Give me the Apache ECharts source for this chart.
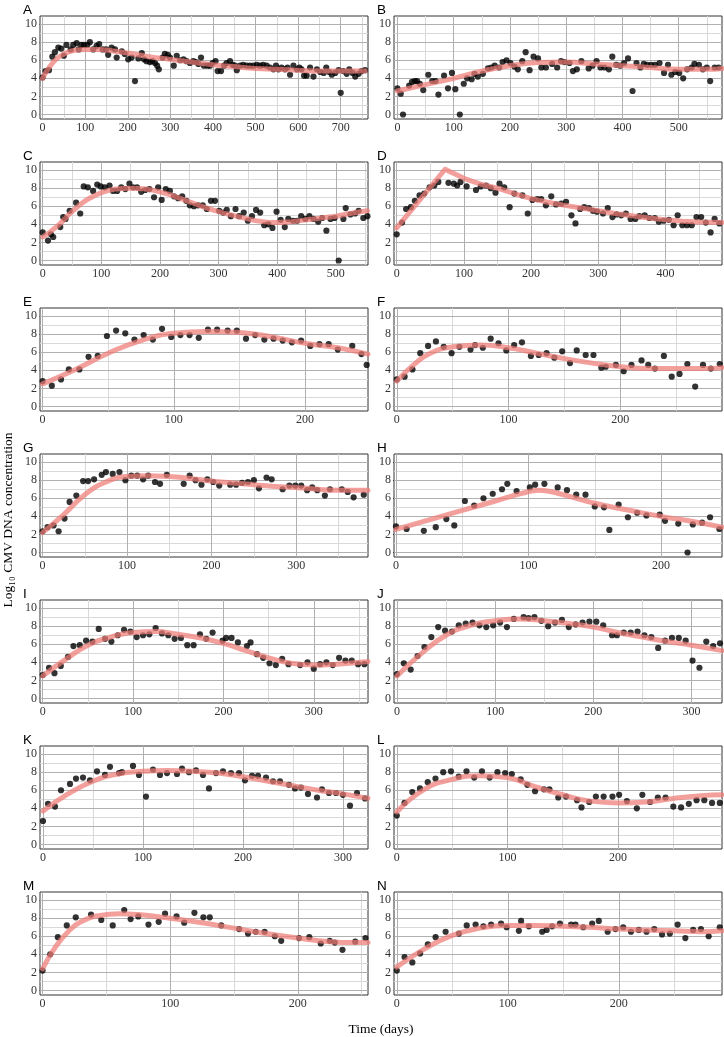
<!DOCTYPE html>
<html>
<head>
<meta charset="utf-8">
<script src="https://cdn.jsdelivr.net/npm/echarts@6/dist/echarts.min.js"></script>
<style>
html,body{margin:0;padding:0;background:#fff;}
#c{width:724px;height:1037px;}
</style>
</head>
<body>
<div id="c"></div>
<script>
// ---------- DATA ----------
const panelNames = ['A','B','C','D','E','F','G','H','I','J','K','L','M','N'];
const yTicks = [0,2,4,6,8,10];
const xTicksA = [0,100,200,300,400,500,600,700];
const xTicksB = [0,100,200,300,400,500];
const xTicksC = [0,100,200,300,400,500];
const xTicksD = [0,100,200,300,400];
const xTicks200 = [0,100,200];
const xTicks300 = [0,100,200,300];
const xRanges = [[-6,764],[-6,577],[-4.6,555],[-4,484],[-2,248],[-2.5,291],[-3,385],[-1.5,246],[-3,360],[-3,331],[-3,325],[-2.5,294],[-2,255],[-2.5,293]];

const ptsA = [[0,4.1],[7,4.8],[15,4.9],[23,6.4],[29,6.9],[37,7.4],[44,7.3],[50,6.5],[56,7.7],[66,7.2],[72,7.7],[80,7.9],[85,7.2],[91,7.7],[97,7.7],[105,7.7],[111,8.0],[119,7.2],[127,7.6],[133,7.8],[141,7.2],[149,7.2],[154,6.6],[162,7.4],[170,7.2],[174,6.3],[186,7.0],[193,6.7],[201,6.1],[209,6.3],[217,3.7],[225,6.2],[233,6.8],[238,6.1],[244,5.9],[252,5.8],[258,5.9],[264,5.7],[269,5.4],[273,5.0],[282,6.3],[287,6.7],[294,6.6],[299,6.3],[308,5.4],[315,6.5],[323,6.0],[331,6.1],[338,5.9],[346,5.7],[354,5.9],[360,5.8],[366,5.6],[372,6.3],[379,5.4],[387,5.4],[393,5.4],[399,5.7],[406,5.9],[411,4.8],[419,4.8],[426,5.4],[432,5.7],[440,5.9],[446,5.5],[452,5.4],[456,4.9],[464,5.4],[471,5.5],[479,5.4],[487,5.4],[495,5.4],[503,5.5],[511,5.4],[518,5.5],[526,5.4],[534,5.2],[542,5.0],[548,5.4],[554,5.0],[561,5.2],[569,5.0],[575,5.2],[581,4.4],[589,5.4],[597,5.0],[603,5.2],[608,5.0],[614,4.3],[620,4.3],[628,5.2],[636,4.2],[644,5.0],[652,4.7],[660,4.6],[666,5.2],[673,4.7],[679,4.4],[687,4.6],[695,4.9],[700,2.4],[706,4.8],[714,4.5],[720,5.0],[728,4.6],[734,4.2],[742,4.5],[749,4.8],[757,4.9]];
const fitA = [[0,4.0],[25,5.8],[50,6.7],[75,7.1],[100,7.2],[130,7.2],[170,7.0],[200,6.8],[250,6.4],[300,6.1],[350,5.8],[400,5.5],[450,5.3],[500,5.1],[550,5.0],[600,4.9],[650,4.8],[700,4.8],[757,4.8]];

const ptsB = [[0,2.9],[6,2.3],[10,0.0],[21,3.2],[26,3.6],[31,3.7],[35,3.7],[40,3.4],[46,2.7],[55,4.4],[62,3.7],[68,3.7],[73,2.2],[83,4.3],[90,2.9],[97,4.6],[103,2.8],[111,0.0],[118,3.4],[124,4.0],[132,3.9],[137,4.5],[143,4.2],[152,4.5],[161,5.1],[167,5.2],[173,5.4],[181,5.2],[187,5.8],[194,6.0],[201,5.7],[208,5.3],[214,5.0],[222,5.9],[228,6.9],[235,4.9],[242,6.4],[250,6.2],[256,5.2],[264,5.2],[275,5.6],[284,5.2],[291,5.9],[297,5.8],[306,5.7],[312,4.8],[319,5.0],[327,5.9],[340,5.1],[347,5.4],[354,5.9],[361,5.2],[368,5.2],[376,5.0],[382,6.4],[389,5.5],[396,5.4],[403,5.7],[410,6.2],[418,2.6],[425,5.7],[432,5.2],[438,5.6],[444,5.5],[451,5.5],[458,5.5],[466,5.7],[474,4.6],[481,5.5],[487,4.4],[494,4.7],[501,4.6],[508,4.0],[515,5.0],[523,5.2],[528,5.6],[536,5.5],[543,5.0],[550,5.2],[556,3.7],[564,5.2],[571,5.2]];
const fitB = [[0,2.6],[50,3.3],[100,4.0],[150,4.8],[200,5.4],[250,5.75],[300,5.8],[350,5.6],[400,5.4],[450,5.2],[500,5.0],[550,5.0],[577,5.1]];

const ptsC = [[0,3.1],[9,2.2],[14,2.9],[18,2.6],[30,3.7],[35,4.8],[39,4.6],[46,5.5],[57,6.4],[64,5.2],[70,8.2],[77,8.1],[86,7.7],[93,8.4],[99,8.2],[106,8.1],[114,8.3],[120,7.7],[127,7.7],[134,8.1],[141,7.9],[148,8.5],[154,8.1],[161,8.1],[168,7.6],[175,7.8],[182,7.9],[190,7.0],[197,8.1],[203,6.7],[210,7.9],[217,7.7],[224,7.1],[231,6.9],[238,7.1],[245,6.6],[251,6.1],[258,6.0],[265,6.1],[273,6.1],[280,5.7],[287,6.6],[294,6.6],[301,5.5],[308,5.3],[314,5.6],[321,4.9],[329,5.7],[335,4.9],[343,5.3],[350,4.4],[357,4.9],[364,5.6],[371,5.3],[378,3.9],[385,4.0],[392,3.6],[399,5.4],[406,4.5],[413,3.7],[419,4.6],[427,4.4],[434,4.4],[441,4.9],[448,4.6],[455,4.9],[462,4.6],[470,4.3],[477,4.7],[484,3.3],[491,4.6],[498,4.7],[505,0.0],[513,4.6],[517,5.8],[525,5.1],[533,5.2],[539,5.5],[547,4.7],[554,4.9]];
const fitC = [[0,2.6],[25,3.8],[50,5.4],[75,6.7],[100,7.5],[125,7.9],[150,8.0],[175,7.9],[200,7.6],[225,7.1],[250,6.5],[275,5.9],[300,5.4],[325,5.0],[350,4.6],[375,4.3],[400,4.2],[425,4.3],[450,4.5],[475,4.7],[500,4.9],[525,5.2],[554,5.5]];

const ptsD = [[0,2.9],[8,4.2],[14,5.7],[21,5.9],[27,6.6],[34,7.2],[41,7.4],[49,8.1],[56,8.3],[62,8.7],[77,8.6],[85,8.5],[90,8.3],[95,8.7],[104,8.2],[118,7.8],[125,8.2],[133,8.3],[140,8.0],[147,7.5],[153,8.5],[160,8.1],[168,5.9],[175,7.4],[187,7.2],[195,5.2],[202,6.7],[209,6.8],[215,6.8],[222,6.1],[230,7.1],[237,6.2],[245,6.3],[252,6.5],[260,5.0],[266,4.1],[273,5.7],[279,5.9],[286,5.8],[292,5.5],[298,5.4],[307,5.2],[314,5.8],[321,4.8],[327,5.1],[334,5.0],[341,5.2],[348,4.6],[355,4.6],[361,4.9],[369,5.0],[376,4.7],[384,4.7],[390,4.3],[397,4.4],[405,4.5],[412,3.9],[418,5.0],[425,3.9],[432,3.9],[439,3.9],[446,4.8],[453,4.8],[460,4.2],[467,3.1],[473,4.6],[480,4.1]];
const fitD = [[0,3.6],[72,10.1],[80,9.8],[90,9.45],[100,9.1],[115,8.7],[130,8.35],[150,8.0],[175,7.4],[200,6.85],[225,6.45],[250,6.1],[275,5.8],[300,5.5],[325,5.2],[350,4.95],[375,4.7],[400,4.5],[425,4.35],[450,4.25],[484,4.2]];

const ptsE = [[0,2.8],[7,2.3],[14,3.0],[20,4.1],[28,4.1],[35,5.5],[42,5.6],[49,7.8],[56,8.4],[63,8.1],[70,7.4],[77,7.9],[84,7.4],[91,8.6],[98,7.7],[105,7.9],[112,7.9],[119,7.6],[126,8.5],[133,8.5],[141,8.4],[148,8.4],[155,7.5],[162,7.9],[169,7.4],[176,7.5],[183,7.3],[190,7.1],[197,7.3],[204,6.7],[211,6.9],[218,6.9],[225,6.3],[236,6.7],[243,5.8],[247,4.6]];
const fitE = [[0,2.5],[25,4.1],[50,5.9],[75,7.3],[100,8.1],[125,8.3],[150,8.2],[175,7.7],[200,7.0],[225,6.5],[248,5.8]];

const ptsF = [[0,3.0],[7,3.3],[14,4.1],[21,5.9],[28,6.7],[35,7.2],[42,6.6],[49,5.9],[56,6.6],[66,6.3],[70,6.8],[77,6.5],[84,7.5],[91,7.0],[98,6.2],[105,6.8],[112,7.1],[120,5.6],[127,5.7],[134,5.9],[141,5.4],[148,6.1],[155,4.8],[161,6.2],[169,5.7],[176,5.7],[183,4.3],[187,4.4],[196,4.6],[203,3.9],[210,4.6],[219,5.1],[225,4.6],[231,4.2],[239,5.6],[246,3.3],[253,3.6],[260,4.7],[267,2.2],[274,4.6],[281,4.2],[289,4.7]];
const fitF = [[0,2.8],[15,4.6],[30,5.9],[50,6.6],[75,6.8],[100,6.5],[125,5.9],[150,5.3],[175,4.8],[200,4.4],[225,4.2],[250,4.2],[275,4.2],[291,4.3]];

const ptsG = [[0,2.35],[6,2.8],[13,3.0],[19,2.35],[26,3.75],[32,5.6],[40,6.3],[48,7.9],[54,7.9],[61,8.1],[70,8.6],[75,8.9],[83,8.7],[91,8.9],[98,8.0],[105,8.5],[112,8.5],[119,8.1],[125,8.5],[133,7.8],[139,7.6],[147,8.6],[167,7.6],[174,8.5],[181,8.0],[188,7.5],[195,8.1],[202,7.8],[209,7.4],[222,7.5],[229,7.5],[236,7.7],[243,7.8],[250,8.0],[256,7.1],[265,8.3],[271,8.1],[284,7.0],[292,7.4],[299,7.4],[306,7.4],[313,6.9],[319,7.2],[325,6.9],[334,6.3],[340,7.0],[354,7.0],[361,6.7],[368,6.1],[380,6.4]];
const fitG = [[0,2.2],[25,4.2],[50,6.4],[75,7.8],[100,8.4],[125,8.5],[150,8.4],[175,8.2],[200,7.9],[225,7.7],[250,7.5],[275,7.3],[300,7.2],[325,7.0],[350,6.9],[385,6.9]];

const ptsH = [[0,2.9],[8,2.6],[21,2.4],[30,2.8],[38,3.7],[44,3.0],[52,5.7],[59,5.2],[66,6.0],[73,6.5],[80,7.0],[84,7.6],[91,6.8],[101,7.2],[105,7.5],[112,7.6],[122,7.2],[129,6.9],[136,6.4],[143,6.4],[150,5.1],[157,5.0],[161,2.5],[168,5.3],[175,3.9],[182,4.4],[189,4.1],[199,4.2],[203,3.5],[213,3.2],[220,0.0],[224,3.1],[231,3.3],[237,3.9],[244,2.6]];
const fitH = [[0,2.55],[25,3.6],[50,4.65],[75,5.7],[95,6.55],[108,6.9],[122,6.55],[150,5.45],[175,4.7],[200,4.0],[225,3.4],[246,2.8]];

const ptsI = [[0,2.6],[7,3.4],[13,2.8],[20,3.6],[28,4.6],[34,5.8],[41,5.9],[48,6.4],[55,6.3],[62,7.7],[69,6.6],[76,6.3],[83,7.0],[90,7.6],[97,7.4],[104,6.8],[111,7.0],[118,7.1],[125,7.8],[132,7.2],[139,7.0],[146,6.6],[153,6.7],[160,5.9],[167,5.9],[174,7.1],[181,6.6],[188,7.3],[199,6.4],[203,6.7],[209,6.7],[216,6.2],[226,5.8],[230,6.2],[237,4.9],[244,4.5],[251,3.9],[258,3.7],[265,4.4],[272,3.8],[285,3.7],[293,4.0],[300,3.3],[307,3.8],[314,4.0],[321,3.7],[328,4.5],[335,4.2],[342,4.2],[349,3.8],[356,3.8]];
const fitI = [[0,2.5],[25,4.3],[50,5.9],[75,6.8],[100,7.3],[125,7.4],[150,7.1],[175,6.7],[200,6.1],[225,5.3],[250,4.5],[275,3.9],[300,3.7],[325,3.8],[360,4.1]];

const ptsJ = [[0,2.7],[7,3.9],[14,3.2],[21,4.7],[28,5.7],[35,6.8],[42,7.9],[49,7.5],[56,7.4],[63,8.1],[70,8.3],[77,8.4],[84,8.1],[91,7.9],[98,8.1],[105,8.4],[112,7.9],[119,8.8],[129,9.0],[134,8.9],[140,9.0],[147,8.6],[154,8.0],[161,8.4],[168,8.7],[175,7.9],[182,8.2],[189,8.4],[196,8.5],[203,8.5],[210,8.1],[219,7.0],[224,7.0],[231,7.3],[238,7.3],[245,7.4],[252,7.0],[259,6.8],[266,5.6],[273,6.4],[280,6.7],[287,6.7],[294,6.4],[301,4.2],[308,3.4],[315,6.3],[322,5.8],[329,6.1]];
const fitJ = [[0,2.5],[25,5.0],[50,7.0],[75,8.1],[100,8.6],[125,8.8],[150,8.6],[175,8.3],[200,7.9],[225,7.3],[250,6.8],[275,6.3],[300,5.9],[331,5.3]];

const ptsK = [[0,2.6],[5,4.5],[12,4.2],[18,6.0],[27,6.7],[33,7.3],[40,7.4],[47,7.1],[54,8.1],[62,7.7],[67,8.6],[76,7.9],[79,8.0],[90,8.7],[96,7.7],[103,5.3],[110,8.3],[117,7.7],[124,7.9],[134,7.8],[139,8.4],[146,8.0],[153,8.2],[160,7.7],[166,6.2],[173,7.9],[180,8.1],[188,7.9],[196,7.9],[202,7.1],[209,7.6],[215,7.6],[223,7.4],[230,7.0],[237,7.0],[246,6.6],[252,6.2],[258,6.3],[265,5.6],[274,5.2],[279,6.1],[286,5.7],[293,5.7],[300,5.5],[307,4.3],[314,5.7],[322,5.1]];
const fitK = [[0,3.7],[25,5.6],[50,7.0],[75,7.8],[100,8.1],[125,8.2],[150,8.1],[175,7.9],[200,7.5],[225,7.0],[250,6.5],[275,6.0],[300,5.6],[325,5.1]];

const ptsL = [[0,3.2],[7,4.6],[14,5.8],[21,6.2],[28,6.9],[35,7.3],[42,8.0],[49,8.1],[56,7.5],[63,8.1],[70,7.4],[77,8.1],[84,7.4],[91,8.0],[98,7.9],[104,7.8],[112,7.2],[118,6.6],[125,5.9],[133,6.1],[138,6.1],[146,5.2],[153,5.3],[163,4.9],[167,4.1],[174,4.7],[180,5.3],[187,5.3],[195,5.3],[201,5.5],[208,4.8],[217,4.0],[222,5.5],[229,4.7],[236,5.2],[243,5.2],[250,4.2],[257,4.1],[264,4.5],[271,4.9],[278,4.9],[285,4.6],[292,4.6]];
const fitL = [[0,3.6],[25,6.1],[50,7.2],[75,7.6],[100,7.4],[125,6.4],[150,5.5],[175,4.8],[200,4.6],[225,4.7],[250,5.1],[275,5.4],[294,5.5]];

const ptsM = [[0,2.2],[6,4.0],[12,5.9],[19,7.2],[26,8.1],[38,8.4],[46,7.8],[55,7.2],[64,8.9],[69,7.9],[75,8.2],[83,7.3],[91,7.6],[96,8.5],[105,8.2],[111,7.5],[119,8.6],[126,8.1],[131,8.1],[140,7.2],[154,6.8],[161,6.3],[167,6.5],[174,6.5],[182,6.0],[187,5.5],[201,5.8],[209,5.9],[218,5.2],[225,5.5],[229,5.3],[235,4.5],[245,5.4],[253,5.8]];
const fitM = [[0,2.4],[10,4.8],[20,6.5],[30,7.6],[45,8.3],[60,8.5],[75,8.4],[100,8.0],[125,7.5],[150,6.9],[175,6.3],[200,5.8],[225,5.4],[245,5.3],[255,5.3]];

const ptsN = [[0,2.2],[7,3.7],[14,3.1],[21,4.1],[28,5.1],[35,5.9],[44,6.5],[56,6.3],[63,7.2],[71,7.3],[78,7.1],[85,7.3],[94,7.4],[99,7.0],[110,6.6],[112,7.7],[119,7.1],[131,6.5],[135,6.7],[140,7.1],[147,7.4],[157,7.3],[161,7.3],[168,7.0],[176,7.4],[182,7.7],[190,6.5],[197,6.8],[204,7.0],[211,6.5],[218,6.7],[225,6.5],[232,6.8],[239,6.2],[246,6.3],[253,7.3],[260,5.8],[267,6.7],[274,6.8],[281,6.0],[291,7.0]];
const fitN = [[0,2.6],[25,4.6],[50,6.1],[75,6.9],[100,7.2],[125,7.2],[150,7.1],[175,7.0],[200,6.8],[225,6.7],[250,6.6],[275,6.5],[293,6.6]];

const allPts = [ptsA,ptsB,ptsC,ptsD,ptsE,ptsF,ptsG,ptsH,ptsI,ptsJ,ptsK,ptsL,ptsM,ptsN];
const allFits = [fitA,fitB,fitC,fitD,fitE,fitF,fitG,fitH,fitI,fitJ,fitK,fitL,fitM,fitN];
const allXTicks = [xTicksA,xTicksB,xTicksC,xTicksD,xTicks200,xTicks200,xTicks300,xTicks200,xTicks300,xTicks300,xTicks300,xTicks200,xTicks200,xTicks200];
const yMinorGrid = [1,3,5,7,9];

// ---------- LAYOUT / STYLE ----------
const SERIF = "'Liberation Serif','DejaVu Serif',serif";
const SANS = "'Liberation Sans','DejaVu Sans',sans-serif";
const colLeft = [40, 394];
const panelW = 328, panelH = 103, top0 = 16, rowStep = 146;
const majorColor = '#b0b0b0', minorColor = '#d9d9d9';
const tickColor = '#333', labelColor = '#333';

const grid = [], xAxis = [], yAxis = [], series = [], graphic = [];

panelNames.forEach((name, i) => {
  const col = i % 2, row = Math.floor(i / 2);
  const left = colLeft[col], top = top0 + row * rowStep;
  const [xmin, xmax] = xRanges[i];
  const ticks = allXTicks[i];
  grid.push({left, top, width: panelW, height: panelH, show: true,
    borderColor: '#333', borderWidth: 1, backgroundColor: '#fff'});
  xAxis.push({gridIndex: i, type: 'value', min: xmin, max: xmax,
    axisLine: {show: false}, splitLine: {show: false},
    axisTick: {show: true, length: 3, lineStyle: {color: tickColor, width: 1}, customValues: ticks},
    axisLabel: {customValues: ticks, fontFamily: SERIF, fontSize: 12, color: labelColor, margin: 3}});
  yAxis.push({gridIndex: i, type: 'value', min: -0.5, max: 10.9,
    axisLine: {show: false}, splitLine: {show: false},
    axisTick: {show: true, length: 3, lineStyle: {color: tickColor, width: 1}, customValues: yTicks},
    axisLabel: {customValues: yTicks, fontFamily: SERIF, fontSize: 12, color: labelColor, margin: 3}});

  // grid lines as markLines (drawn beneath marks)
  const step = ticks[1] - ticks[0];
  const xMinor = [];
  for (let v = ticks[0] + step / 2; v <= xmax; v += step) xMinor.push(v);
  const ml = [];
  xMinor.forEach(v => ml.push({xAxis: v, lineStyle: {color: minorColor, width: 1, type: 'solid'}}));
  yMinorGrid.forEach(v => ml.push({yAxis: v, lineStyle: {color: minorColor, width: 1, type: 'solid'}}));
  ticks.forEach(v => ml.push({xAxis: v, lineStyle: {color: majorColor, width: 1, type: 'solid'}}));
  yTicks.forEach(v => ml.push({yAxis: v, lineStyle: {color: majorColor, width: 1, type: 'solid'}}));
  series.push({type: 'line', xAxisIndex: i, yAxisIndex: i, data: [], z: 1, silent: true,
    markLine: {silent: true, z: 1, symbol: ['none', 'none'], label: {show: false}, animation: false,
      emphasis: {disabled: true}, data: ml}});

  series.push({type: 'scatter', xAxisIndex: i, yAxisIndex: i, data: allPts[i], z: 20,
    symbol: 'circle', symbolSize: 6.2, itemStyle: {color: '#000'}, silent: true});

  series.push({type: 'line', xAxisIndex: i, yAxisIndex: i, data: allFits[i], z: 30,
    showSymbol: false, symbol: 'none', smooth: name === 'D' ? false : 0.5,
    lineStyle: {color: 'rgba(239,122,116,0.72)', width: 5, cap: 'round', join: 'round'}, silent: true});

  graphic.push({type: 'text', left: col === 0 ? 23 : 377, top: top - 13,
    style: {text: name, font: '13.5px ' + SANS, fill: '#000'}});
});

graphic.push({type: 'text', x: 381, y: 1029,
  style: {text: 'Time (days)', font: '13.5px ' + SERIF, fill: '#000', textAlign: 'center', textVerticalAlign: 'middle'}});
graphic.push({type: 'text', x: 8, y: 520, rotation: Math.PI / 2,
  style: {text: 'Log\u2081\u2080 CMV DNA concentration', font: '13.5px ' + SERIF, fill: '#000', textAlign: 'center', textVerticalAlign: 'middle'}});

const chart = echarts.init(document.getElementById('c'), null, {renderer: 'canvas'});
chart.setOption({animation: false, backgroundColor: '#fff', grid, xAxis, yAxis, series, graphic});
</script>
</body>
</html>
